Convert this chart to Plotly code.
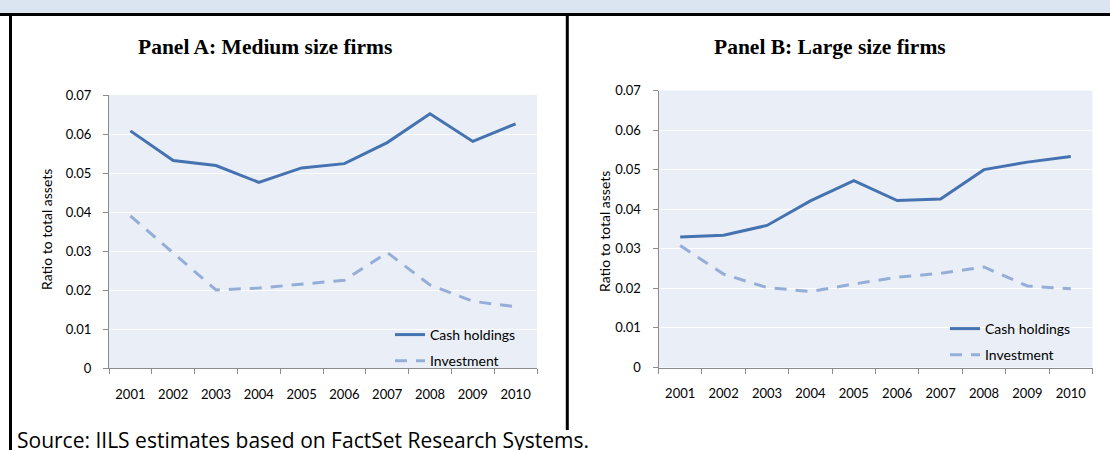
import plotly.graph_objects as go

years = ["2001", "2002", "2003", "2004", "2005", "2006", "2007", "2008", "2009", "2010"]
cash_medium = [0.0608, 0.0532, 0.0519, 0.0476, 0.0513, 0.0524, 0.0578, 0.0652, 0.0581, 0.0626]
inv_medium = [0.0390, 0.0295, 0.0200, 0.0205, 0.0215, 0.0225, 0.0296, 0.0213, 0.0171, 0.0157]
cash_large = [0.0330, 0.0334, 0.0359, 0.0421, 0.0472, 0.0422, 0.0426, 0.0500, 0.0519, 0.0533]
inv_large = [0.0308, 0.0236, 0.0202, 0.0192, 0.0211, 0.0228, 0.0238, 0.0254, 0.0206, 0.0199]
y_ticks = [0, 0.01, 0.02, 0.03, 0.04, 0.05, 0.06, 0.07]
y_ticktext = ["0", "0.01", "0.02", "0.03", "0.04", "0.05", "0.06", "0.07"]

panel_titles = ["Panel A: Medium size firms", "Panel B: Large size firms"]
y_title = "Ratio to total assets"
series_names = ["Cash holdings", "Investment"]
source_text = "Source: IILS estimates based on FactSet Research Systems."

W, H = 1110, 450
CASH_COLOR = "#4572b0"
INV_COLOR = "#95aed8"
PLOT_BG = "#eaeff7"
AXIS_COLOR = "#8c8c8c"
FONT = "Lato"


def px(x):
    return x / W


def py(y):
    return 1 - y / H


fig = go.Figure()

panels = [
    dict(xa="x", ya="y", leg="legend", cash=cash_medium, inv=inv_medium),
    dict(xa="x2", ya="y2", leg="legend2", cash=cash_large, inv=inv_large),
]
for i, p in enumerate(panels):
    fig.add_trace(go.Scatter(
        x=years, y=p["cash"], name=series_names[0], mode="lines",
        line=dict(color=CASH_COLOR, width=3),
        xaxis=p["xa"], yaxis=p["ya"], legend=p["leg"], legendgroup=f"c{i}",
        hoverinfo="x+y",
    ))
    fig.add_trace(go.Scatter(
        x=years, y=p["inv"], name=series_names[1], mode="lines",
        line=dict(color=INV_COLOR, width=3, dash="12px,9px"),
        xaxis=p["xa"], yaxis=p["ya"], legend=p["leg"], legendgroup=f"i{i}",
        hoverinfo="x+y",
    ))

xaxis_common = dict(
    type="category", range=[-0.5, len(years) - 0.5], tickson="boundaries",
    ticks="outside", ticklen=5,
    tickcolor=AXIS_COLOR, showline=True, linecolor=AXIS_COLOR, linewidth=1,
    showgrid=False, zeroline=False, tickfont=dict(family=FONT, size=13, color="#000"),
    ticklabelstandoff=14, fixedrange=True,
)
yaxis_common = dict(
    range=[0, 0.07], tickvals=y_ticks, ticktext=y_ticktext, ticks="outside", ticklen=5,
    tickcolor=AXIS_COLOR, showline=True, linecolor=AXIS_COLOR, linewidth=1,
    showgrid=True, gridcolor="white", gridwidth=1, zeroline=False,
    tickfont=dict(family=FONT, size=13, color="#000"), ticklabelstandoff=9,
    fixedrange=True,
)

legend_common = dict(
    bgcolor="rgba(0,0,0,0)", font=dict(family=FONT, size=14, color="#000"),
    traceorder="grouped", tracegroupgap=5, xanchor="left", yanchor="top",
    itemclick=False, itemdoubleclick=False,
)

fig.update_layout(
    width=W, height=H, margin=dict(l=0, r=0, t=0, b=0, pad=0, autoexpand=False),
    paper_bgcolor="white", plot_bgcolor=PLOT_BG,
    xaxis=dict(xaxis_common, domain=[px(109), px(537)], anchor="y"),
    yaxis=dict(yaxis_common, domain=[py(368), py(95)], anchor="x"),
    xaxis2=dict(xaxis_common, domain=[px(658.5), px(1092.5)], anchor="y2"),
    yaxis2=dict(yaxis_common, domain=[py(367.5), py(90.5)], anchor="x2"),
    legend=dict(legend_common, x=px(390), y=py(319)),
    legend2=dict(legend_common, x=px(945), y=py(313)),
    showlegend=True,
)

# decorations: top band, borders and divider
fig.add_shape(type="rect", xref="paper", yref="paper", x0=0, x1=1, y0=py(13.5), y1=1,
              fillcolor="#dbe5f1", line_width=0, layer="below")
fig.add_shape(type="line", xref="paper", yref="paper", x0=0, x1=1, y0=py(14.5), y1=py(14.5),
              line=dict(color="black", width=3))
fig.add_shape(type="line", xref="paper", yref="paper", x0=px(10.5), x1=px(10.5), y0=0, y1=py(14.5),
              line=dict(color="black", width=3))
fig.add_shape(type="line", xref="paper", yref="paper", x0=px(567.3), x1=px(567.3), y0=py(430), y1=py(14.5),
              line=dict(color="black", width=3))

annotations = [
    dict(text=f"<b>{panel_titles[0]}</b>", x=px(265), y=py(47), xref="paper", yref="paper",
         showarrow=False, font=dict(family="Liberation Serif", size=21.5, color="#000"),
         xanchor="center", yanchor="middle"),
    dict(text=f"<b>{panel_titles[1]}</b>", x=px(830), y=py(47), xref="paper", yref="paper",
         showarrow=False, font=dict(family="Liberation Serif", size=21.5, color="#000"),
         xanchor="center", yanchor="middle"),
    dict(text=y_title, x=px(47), y=py(230), xref="paper", yref="paper", textangle=-90,
         showarrow=False, font=dict(family=FONT, size=14, color="#000"),
         xanchor="center", yanchor="middle"),
    dict(text=y_title, x=px(604), y=py(232), xref="paper", yref="paper", textangle=-90,
         showarrow=False, font=dict(family=FONT, size=14, color="#000"),
         xanchor="center", yanchor="middle"),
    dict(text=source_text, x=px(15), y=py(440), xref="paper", yref="paper",
         showarrow=False, font=dict(family="Open Sans", size=21, color="#000"),
         xanchor="left", yanchor="middle"),
]
fig.update_layout(annotations=annotations)

fig.write_html("out.html", config={"displayModeBar": False},
               post_script="document.body.style.margin='0';")
